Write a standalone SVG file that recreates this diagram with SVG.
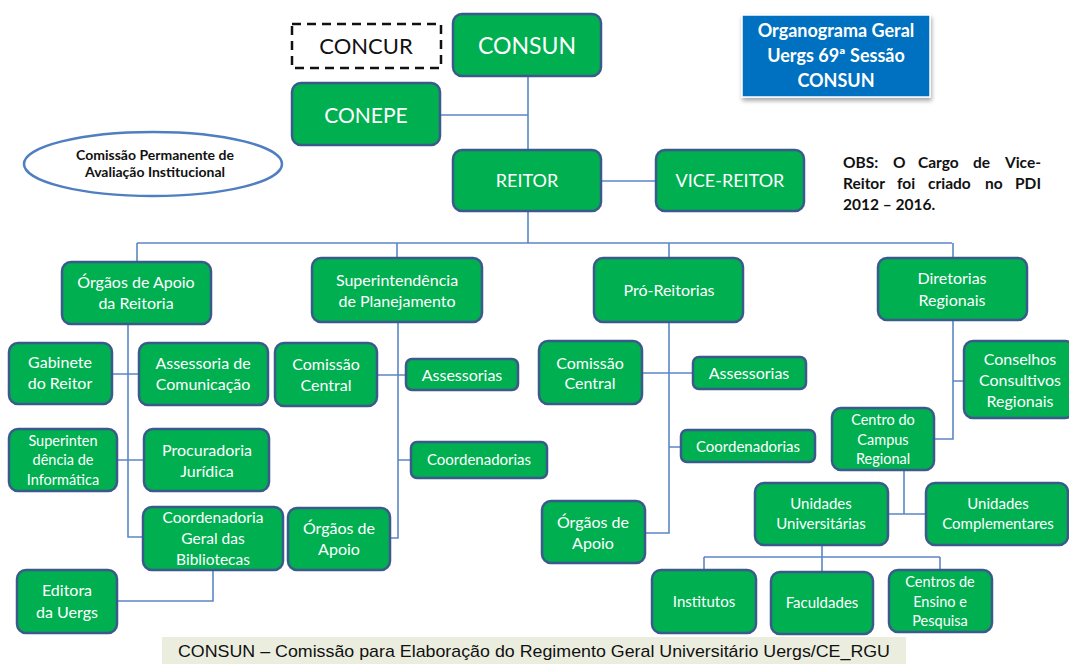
<svg xmlns="http://www.w3.org/2000/svg" width="1069" height="664" viewBox="0 0 1069 664">
<defs>
<style>
.b{fill:#00b050;stroke:#3a5a8c;stroke-width:2.5}
.t{font-family:Lato,"Open Sans",sans-serif;fill:#fff;text-anchor:middle;font-size:16px}
.s{font-size:14.5px}
.c{fill:none;stroke:#5b87c6;stroke-width:1.6}
.k{font-family:Lato,"Open Sans",sans-serif;font-weight:bold;fill:#111;font-size:15.5px}
</style>
<filter id="sh" x="-10%" y="-10%" width="130%" height="140%"><feDropShadow dx="1" dy="3" stdDeviation="2" flood-color="#000" flood-opacity="0.35"/></filter>
</defs>
<rect width="1069" height="664" fill="#fff"/>
<g id="connectors" class="c">
<path d="M528 76V150M440 115H528M601 181H656M528 211V243M137 243H952M137 243V262M397 243V258M669 243V258M953 243V258"/>
<path d="M128 324V537H143M112 374H139M117 460H144M213 570V601H117"/>
<path d="M398 322V538H390M377 375H406M398 460H411"/>
<path d="M669 322V533H645M642 373H693M669 447H681"/>
<path d="M953 320V439H934M953 381H964M904 470V514M888 514H926M822 545V571M704 557H940M704 557V570M940 557V570"/>
</g>
<g id="concur"><rect x="292" y="24" width="149" height="44" fill="none" stroke="#111" stroke-width="2.5" stroke-dasharray="9,6"/><text class="t" x="366" y="54" style="fill:#111;font-size:22px">CONCUR</text></g>
<g id="consun"><rect class="b" x="453" y="14" width="148" height="62" rx="9"/><text class="t" x="527" y="54" style="font-size:23px">CONSUN</text></g>
<g id="conepe"><rect class="b" x="292" y="83" width="148" height="62" rx="9"/><text class="t" x="366" y="123" style="font-size:21px">CONEPE</text></g>
<g id="cpa"><ellipse cx="153" cy="164" rx="129" ry="32" fill="#fff" stroke="#4f7fc0" stroke-width="2.5"/><text class="k" x="155" y="160" text-anchor="middle" style="font-size:14px">Comissão Permanente de</text><text class="k" x="155" y="177" text-anchor="middle" style="font-size:14px">Avaliação Institucional</text></g>
<g id="reitor"><rect class="b" x="453" y="150" width="148" height="61" rx="9"/><text class="t" x="527" y="187" style="font-size:18px">REITOR</text></g>
<g id="vice"><rect class="b" x="656" y="150" width="148" height="61" rx="9"/><text class="t" x="730" y="187" style="font-size:18px">VICE-REITOR</text></g>
<g id="title"><rect x="742" y="15" width="188" height="82" fill="#0070c0" stroke="#fff" stroke-width="1.5" filter="url(#sh)"/><text class="t" style="font-weight:bold;font-size:18px"><tspan x="836" y="37">Organograma Geral</tspan><tspan x="836" y="62">Uergs 69ª Sessão</tspan><tspan x="836" y="87">CONSUN</tspan></text></g>
<g id="obs"><text class="k"><tspan x="843" y="168">OBS:</tspan><tspan x="893" y="168">O</tspan><tspan x="918" y="168">Cargo</tspan><tspan x="973" y="168">de</tspan><tspan x="1041" y="168" text-anchor="end">Vice-</tspan></text><text class="k"><tspan x="843" y="189">Reitor</tspan><tspan x="897" y="189">foi</tspan><tspan x="928" y="189">criado</tspan><tspan x="985" y="189">no</tspan><tspan x="1041" y="189" text-anchor="end">PDI</tspan></text><text class="k" x="843" y="210">2012 – 2016.</text></g>
<g id="orgaos-reitoria"><rect class="b" x="62" y="262" width="149" height="62" rx="9"/><text class="t"><tspan x="136" y="288">Órgãos de Apoio</tspan><tspan x="136" y="309">da Reitoria</tspan></text></g>
<g id="gabinete"><rect class="b" x="9" y="343" width="103" height="61" rx="9"/><text class="t"><tspan x="60" y="368">Gabinete</tspan><tspan x="60" y="389">do Reitor</tspan></text></g>
<g id="assessoria-com"><rect class="b" x="139" y="343" width="129" height="62" rx="9"/><text class="t"><tspan x="203" y="369">Assessoria de</tspan><tspan x="203" y="390">Comunicação</tspan></text></g>
<g id="sup-info"><rect class="b" x="9" y="429" width="108" height="62" rx="9"/><text class="t s"><tspan x="63" y="446">Superinten</tspan><tspan x="63" y="465">dência de</tspan><tspan x="63" y="485">Informática</tspan></text></g>
<g id="procuradoria"><rect class="b" x="144" y="429" width="125" height="62" rx="9"/><text class="t"><tspan x="207" y="456">Procuradoria</tspan><tspan x="207" y="477">Jurídica</tspan></text></g>
<g id="coord-bib"><rect class="b" x="143" y="507" width="140" height="63" rx="9"/><text class="t" style="font-size:15.5px"><tspan x="213" y="523">Coordenadoria</tspan><tspan x="213" y="544">Geral das</tspan><tspan x="213" y="565">Bibliotecas</tspan></text></g>
<g id="editora"><rect class="b" x="17" y="570" width="100" height="63" rx="9"/><text class="t"><tspan x="67" y="596">Editora</tspan><tspan x="67" y="618">da Uergs</tspan></text></g>
<g id="sup-plan"><rect class="b" x="312" y="258" width="170" height="64" rx="9"/><text class="t"><tspan x="397" y="286">Superintendência</tspan><tspan x="397" y="307">de Planejamento</tspan></text></g>
<g id="com-central-sp"><rect class="b" x="275" y="343" width="102" height="63" rx="9"/><text class="t"><tspan x="326" y="370">Comissão</tspan><tspan x="326" y="391">Central</tspan></text></g>
<g id="assessorias-sp"><rect class="b" x="406" y="359" width="112" height="31" rx="6"/><text class="t" x="462" y="381">Assessorias</text></g>
<g id="coord-sp"><rect class="b" x="411" y="442" width="136" height="36" rx="6"/><text class="t" x="479" y="465" style="font-size:15px">Coordenadorias</text></g>
<g id="orgaos-sp"><rect class="b" x="288" y="508" width="102" height="62" rx="9"/><text class="t"><tspan x="339" y="534">Órgãos de</tspan><tspan x="339" y="555">Apoio</tspan></text></g>
<g id="pro-reitorias"><rect class="b" x="594" y="258" width="149" height="64" rx="9"/><text class="t" x="669" y="296">Pró-Reitorias</text></g>
<g id="com-central-pr"><rect class="b" x="539" y="341" width="103" height="63" rx="9"/><text class="t"><tspan x="590" y="369">Comissão</tspan><tspan x="590" y="389">Central</tspan></text></g>
<g id="assessorias-pr"><rect class="b" x="693" y="357" width="113" height="32" rx="6"/><text class="t" x="749" y="379">Assessorias</text></g>
<g id="coord-pr"><rect class="b" x="681" y="430" width="134" height="32" rx="6"/><text class="t" x="748" y="452" style="font-size:15px">Coordenadorias</text></g>
<g id="orgaos-pr"><rect class="b" x="542" y="501" width="103" height="62" rx="9"/><text class="t"><tspan x="593" y="528">Órgãos de</tspan><tspan x="593" y="549">Apoio</tspan></text></g>
<g id="diretorias"><rect class="b" x="878" y="258" width="149" height="62" rx="9"/><text class="t"><tspan x="952" y="284">Diretorias</tspan><tspan x="952" y="306">Regionais</tspan></text></g>
<g id="conselhos"><rect class="b" x="964" y="341" width="110" height="77" rx="9"/><text class="t"><tspan x="1020" y="365">Conselhos</tspan><tspan x="1020" y="386">Consultivos</tspan><tspan x="1020" y="407">Regionais</tspan></text></g>
<g id="centro-campus"><rect class="b" x="832" y="408" width="102" height="62" rx="9"/><text class="t s"><tspan x="883" y="425">Centro do</tspan><tspan x="883" y="445">Campus</tspan><tspan x="883" y="464">Regional</tspan></text></g>
<g id="unid-univ"><rect class="b" x="755" y="483" width="133" height="62" rx="9"/><text class="t" style="font-size:15px"><tspan x="821" y="509">Unidades</tspan><tspan x="821" y="529">Universitárias</tspan></text></g>
<g id="unid-comp"><rect class="b" x="926" y="483" width="142" height="62" rx="9"/><text class="t" style="font-size:15px"><tspan x="998" y="509">Unidades</tspan><tspan x="998" y="529">Complementares</tspan></text></g>
<g id="institutos"><rect class="b" x="652" y="570" width="104" height="63" rx="9"/><text class="t" x="704" y="607" style="font-size:15px">Institutos</text></g>
<g id="faculdades"><rect class="b" x="771" y="572" width="102" height="62" rx="9"/><text class="t" x="822" y="608" style="font-size:15px">Faculdades</text></g>
<g id="centros"><rect class="b" x="889" y="570" width="103" height="62" rx="9"/><text class="t s"><tspan x="940" y="587">Centros de</tspan><tspan x="940" y="607">Ensino e</tspan><tspan x="940" y="626">Pesquisa</tspan></text></g>
<g id="footer"><rect x="162" y="637" width="744" height="27" fill="#ebeedf"/><text x="534" y="657" text-anchor="middle" font-family="Liberation Sans, Arial, sans-serif" font-size="17" fill="#111" textLength="712" lengthAdjust="spacingAndGlyphs">CONSUN – Comissão para Elaboração do Regimento Geral Universitário Uergs/CE_RGU</text></g>
</svg>
